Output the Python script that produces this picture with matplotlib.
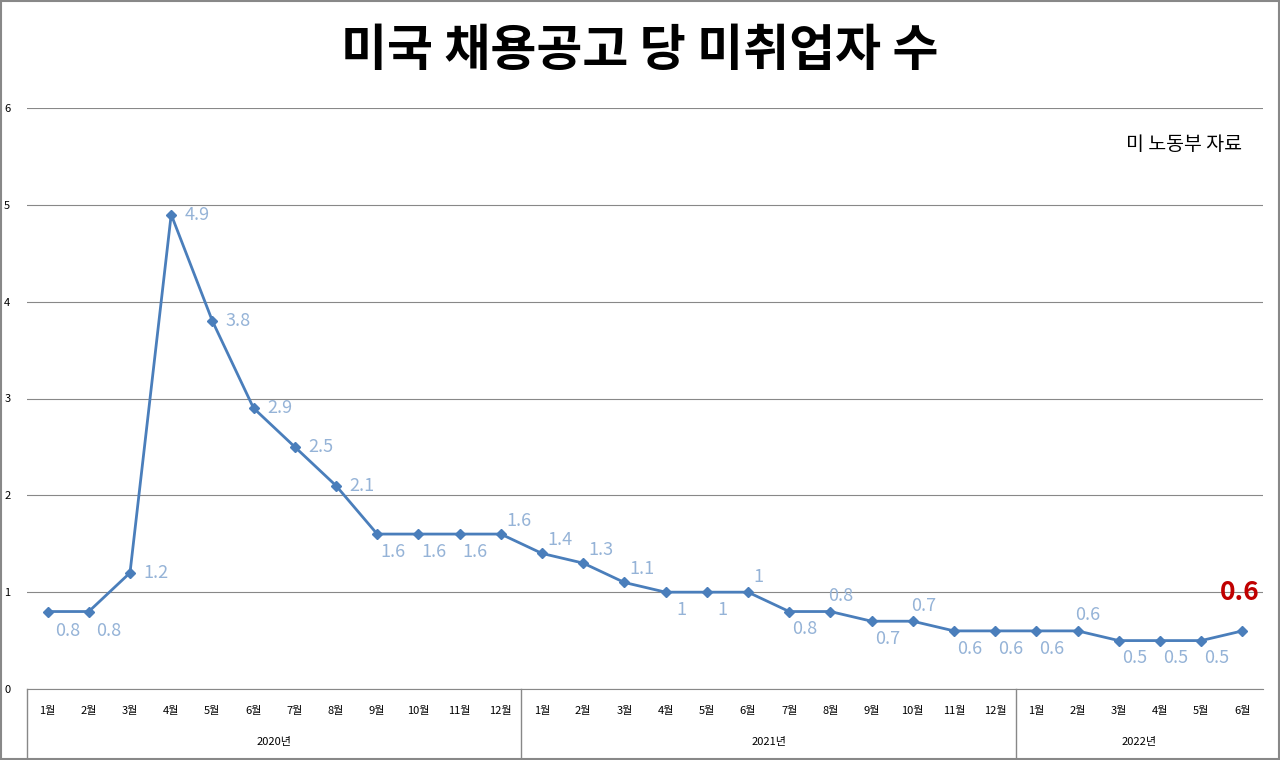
import matplotlib
matplotlib.use("Agg")
import matplotlib.pyplot as plt
from matplotlib.lines import Line2D
from matplotlib.patches import Rectangle

plt.rcParams['font.family'] = ['Noto Sans CJK KR', 'DejaVu Sans']

years = ['2020년', '2021년', '2022년']
months_per_year = [12, 12, 6]
values = [0.8, 0.8, 1.2, 4.9, 3.8, 2.9, 2.5, 2.1, 1.6, 1.6, 1.6, 1.6,
          1.4, 1.3, 1.1, 1, 1, 1, 0.8, 0.8, 0.7, 0.7, 0.6, 0.6,
          0.6, 0.6, 0.5, 0.5, 0.5, 0.6]
value_labels = ['0.8', '0.8', '1.2', '4.9', '3.8', '2.9', '2.5', '2.1', '1.6', '1.6', '1.6', '1.6',
                '1.4', '1.3', '1.1', '1', '1', '1', '0.8', '0.8', '0.7', '0.7', '0.6', '0.6',
                '0.6', '0.6', '0.5', '0.5', '0.5', '0.6']
# placement: 'br' below-right, 'r' right, 'b' below, 'ar' above-right, 'a' above
placement = ['br', 'br', 'r', 'r', 'r', 'r', 'r', 'r', 'b', 'b', 'b', 'ar',
             'ar', 'ar', 'ar', 'b', 'b', 'a', 'b', 'a', 'b', 'a', 'b', 'b',
             'b', 'a', 'b', 'b', 'b', 'hl']
title = '미국 채용공고 당 미취업자 수'
source = '미 노동부 자료'

W, H = 1280, 760
fig = plt.figure(figsize=(12.8, 7.6), dpi=100)
fig.patches.append(Rectangle((0.001, 0.001), 0.998, 0.998, transform=fig.transFigure,
                             fill=False, edgecolor='#888888', lw=1.5))
L, R, T, B = 27, 1263, 108, 689
ax = fig.add_axes([L / W, 1 - B / H, (R - L) / W, (B - T) / H])
n = len(values)
x = list(range(n))
ax.set_xlim(-0.5, n - 0.5)
ax.set_ylim(0, 6)
ax.set_yticks(range(7))
ax.grid(axis='y', color='#888888', lw=0.8)
ax.set_axisbelow(True)
for s in ['left', 'right', 'top']:
    ax.spines[s].set_visible(False)
ax.spines['bottom'].set_color('#888888')
ax.tick_params(axis='y', length=0, labelsize=8, pad=12)
ax.set_yticklabels([str(i) for i in range(7)])
ax.tick_params(axis='x', length=0)
ax.set_xticks(x)
ax.set_xticklabels([])

col = '#4a7ebb'
ax.plot(x, values, color=col, lw=2.0, marker='D', markersize=5)

lc = '#95b3d7'
offs = {'br': (19, -19), 'r': (25, 0), 'b': (15, -17), 'ar': (17, 13), 'a': (10, 15)}
for i, (v, t, p) in enumerate(zip(values, value_labels, placement)):
    if p == 'hl':
        ax.annotate(t, (i, v), xytext=(-2, 28), textcoords='offset points', ha='center',
                    va='center', fontsize=19, fontweight='bold', color='#c00000')
    else:
        dx, dy = offs[p]
        ax.annotate(t, (i, v), xytext=(dx * 0.75, dy * 0.75), textcoords='offset points',
                    ha='center', va='center', fontsize=13, color=lc)

ax.text(0.983, 0.955, source, transform=ax.transAxes, ha='right', va='top', fontsize=14)
fig.text(0.5, 1 - 52 / H, title, ha='center', va='center', fontsize=36, fontweight='bold')

# two-level x axis
def fx(px):
    return px / W
def fy(py):
    return 1 - py / H
cw = (R - L) / n
fig.add_artist(Line2D([fx(L), fx(L)], [fy(B), fy(757)], color='#888888', lw=1))
start = 0
for yr, m in zip(years, months_per_year):
    for k in range(m):
        cx = L + (start + k + 0.5) * cw
        fig.text(fx(cx), fy(711), f'{k + 1}월', ha='center', va='center', fontsize=8)
    mid = L + (start + m / 2) * cw
    fig.text(fx(mid), fy(742), yr, ha='center', va='center', fontsize=8)
    start += m
    if start < n:
        xe = L + start * cw
        fig.add_artist(Line2D([fx(xe), fx(xe)], [fy(B), fy(757)], color='#888888', lw=1))

fig.savefig('out.png', dpi=100)
